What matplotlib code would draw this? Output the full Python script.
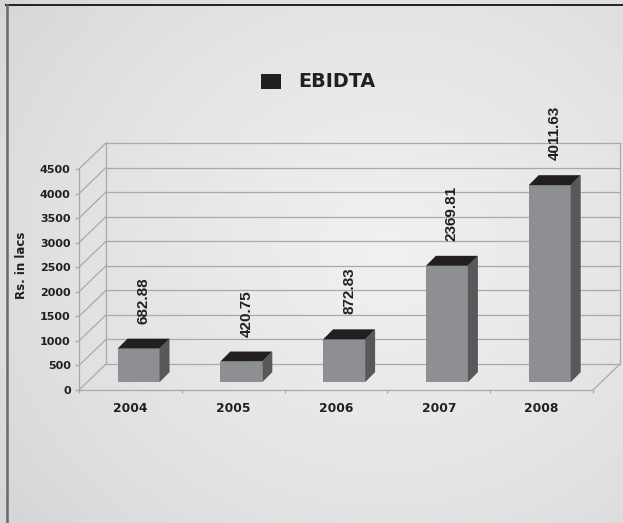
import numpy as np
import matplotlib
matplotlib.use("Agg")
import matplotlib.pyplot as plt
from matplotlib.patches import Polygon, Rectangle
from matplotlib.lines import Line2D

# ---- data ----
years = ["2004", "2005", "2006", "2007", "2008"]
ebidta = [682.88, 420.75, 872.83, 2369.81, 4011.63]
value_labels = ["682.88", "420.75", "872.83", "2369.81", "4011.63"]
yticks = [0, 500, 1000, 1500, 2000, 2500, 3000, 3500, 4000, 4500]
series_name = "EBIDTA"
y_title = "Rs. in lacs"

W, H = 623, 523
fig = plt.figure(figsize=(W / 100, H / 100), dpi=100)

# background gradient
bg = fig.add_axes([0, 0, 1, 1], zorder=0)
yy, xx = np.mgrid[0:1:300j, 0:1:360j]
r = np.sqrt(((xx - 0.62) / 0.75) ** 2 + ((yy - 0.48) / 0.8) ** 2)
v = np.clip(1 - r, 0, 1)
c0 = np.array([0.840, 0.843, 0.851])
c1 = np.array([0.945, 0.945, 0.945])
img = c0[None, None, :] + (c1 - c0)[None, None, :] * v[..., None] ** 0.8
bg.imshow(img, extent=[0, 1, 0, 1], aspect="auto", origin="upper")
bg.set_axis_off()
bg.set_xlim(0, 1)
bg.set_ylim(0, 1)
# frame lines
bg.add_line(Line2D([6 / W, 1], [1 - 4.5 / H, 1 - 4.5 / H], color="#231f20", lw=1.4))
bg.add_line(Line2D([6.5 / W, 6.5 / W], [0, 1 - 4.5 / H], color="#6a6a6a", lw=1.8))

# main axes = front plane of 3D chart
x0, x1 = 79, 593
y0, y1 = 390, 169
ax = fig.add_axes([x0 / W, 1 - y0 / H, (x1 - x0) / W, (y0 - y1) / H], zorder=1)
ax.patch.set_alpha(0)
ax.set_xlim(-0.5, 4.5)
ax.set_ylim(0, 4500)

px_cat = (x1 - x0) / 5.0
px_val = (y0 - y1) / 4500.0
DX = 27 / px_cat     # wall depth in category units
DY = 26 / px_val     # wall depth in value units

grid_c = "#a9a9a9"
glw = 0.9
# back wall gridlines + side wall diagonals
for t in yticks:
    ax.add_line(Line2D([-0.5 + DX, 4.5 + DX], [t + DY, t + DY], color=grid_c, lw=glw, clip_on=False, zorder=1))
    ax.add_line(Line2D([-0.5, -0.5 + DX], [t, t + DY], color=grid_c, lw=glw, clip_on=False, zorder=1))
# back wall vertical edges
for xe in (-0.5 + DX, 4.5 + DX):
    ax.add_line(Line2D([xe, xe], [DY, 4500 + DY], color=grid_c, lw=glw, clip_on=False, zorder=1))
# floor right edge
ax.add_line(Line2D([4.5, 4.5 + DX], [0, DY], color=grid_c, lw=glw, clip_on=False, zorder=1))

# bars
f1 = 0.3
bw = 42 / px_cat
bdx = 10 / px_cat
bdy = 10 / px_val
front_c = "#8e8f92"
side_c = "#58585a"
top_c = "#231f20"
for i, val in enumerate(ebidta):
    xl = i - bw / 2 + f1 * DX
    xr = xl + bw
    yb = f1 * DY
    yt = yb + val
    ax.add_patch(Rectangle((xl, yb), bw, val, facecolor=front_c, edgecolor="none", zorder=3, clip_on=False))
    ax.add_patch(Polygon([(xr, yb), (xr + bdx, yb + bdy), (xr + bdx, yt + bdy), (xr, yt)],
                         closed=True, facecolor=side_c, edgecolor="none", zorder=3, clip_on=False))
    ax.add_patch(Polygon([(xl, yt), (xr, yt), (xr + bdx, yt + bdy), (xl + bdx, yt + bdy)],
                         closed=True, facecolor=top_c, edgecolor="none", zorder=3, clip_on=False))
    ax.text(i + f1 * DX + bdx / 2, yt + bdy + 15 / px_val, value_labels[i], rotation=90,
            ha="center", va="bottom", fontsize=11, fontweight="bold", color="#231f20",
            family=["Liberation Sans", "DejaVu Sans"], zorder=4, clip_on=False)

# spines / ticks
for s in ("top", "right"):
    ax.spines[s].set_visible(False)
ax.spines["left"].set_color(grid_c)
ax.spines["bottom"].set_color(grid_c)
ax.spines["left"].set_linewidth(glw)
ax.spines["bottom"].set_linewidth(glw)
ax.set_yticks(yticks)
ax.set_yticklabels([str(t) for t in yticks], fontsize=8, fontweight="bold", color="#231f20")
ax.tick_params(axis="y", length=3, width=glw, color=grid_c, pad=3)
ax.set_xticks([-0.5, 0.5, 1.5, 2.5, 3.5, 4.5])
ax.set_xticklabels([""] * 6)
ax.tick_params(axis="x", which="major", length=2.5, width=glw, color=grid_c)
ax.set_xticks(range(len(years)), minor=True)
ax.set_xticklabels(years, minor=True, fontsize=8.8, fontweight="bold", color="#231f20")
ax.tick_params(axis="x", which="minor", length=0, pad=9)
ax.set_ylabel(y_title, fontsize=8.5, fontweight="bold", color="#231f20", labelpad=4)
ax.yaxis.set_label_coords(-(79 - 28) / (x1 - x0), (390 - 265) / (y0 - y1))

# legend (title-like)
fig.patches.append(Rectangle((261 / W, 1 - 89 / H), 20 / W, 15 / H, transform=fig.transFigure,
                             facecolor="#231f20", edgecolor="none", zorder=5))
fig.text(298 / W, 1 - 82 / H, series_name, fontsize=13.8, fontweight="bold", color="#231f20",
         ha="left", va="center")

fig.savefig("out.png", dpi=100)
